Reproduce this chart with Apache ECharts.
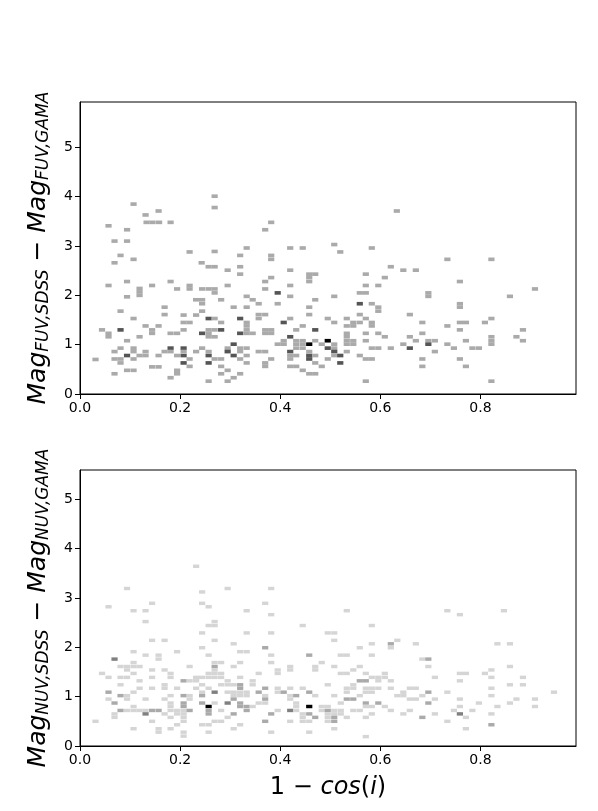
<!DOCTYPE html>
<html>
<head>
<meta charset="utf-8">
<script src="https://cdn.jsdelivr.net/npm/echarts@6/dist/echarts.min.js"></script>
<style>
  html, body { margin: 0; padding: 0; background: #fff; }
  #chart { width: 598px; height: 811px; }
</style>
</head>
<body>
<div id="chart"></div>
<script>
// 2D histogram cells: [1 - cos(i), magnitude difference, count]
var fuvCells = [
  [0.107,3.85,1],[0.131,3.63,1],[0.157,3.71,1],[0.133,3.48,1],[0.145,3.48,1],[0.158,3.48,1],[0.181,3.48,1],[0.057,3.41,1],[0.094,3.33,1],[0.069,3.10,1],[0.094,3.10,1],[0.081,2.81,1],[0.069,2.66,1],[0.107,2.73,1],[0.219,2.88,1],[0.243,2.66,1],
  [0.057,2.20,1],[0.094,2.28,1],[0.119,2.14,1],[0.119,2.07,1],[0.119,2.00,1],[0.144,2.20,1],[0.094,1.97,1],[0.181,2.28,1],[0.194,2.13,1],[0.219,2.20,1],[0.219,2.13,1],
  [0.081,1.68,1],[0.107,1.53,1],[0.169,1.76,1],[0.169,1.61,1],[0.207,1.60,1],[0.232,1.60,1],[0.232,1.91,1],
  [0.207,1.45,1],[0.219,1.45,1],[0.044,1.30,1],[0.057,1.23,1],[0.057,1.16,1],[0.081,1.30,2],[0.094,1.08,1],[0.119,1.16,1],[0.131,1.38,1],[0.144,1.30,1],[0.144,1.23,1],[0.157,1.38,1],[0.181,1.23,1],[0.194,1.23,1],[0.207,1.30,1],
  [0.081,0.93,1],[0.069,0.86,1],[0.094,0.78,2],[0.069,0.71,1],[0.081,0.71,1],[0.081,0.63,1],[0.107,0.71,1],[0.107,0.93,1],[0.107,0.86,1],[0.119,0.78,1],[0.131,0.78,1],[0.131,0.86,1],[0.157,0.78,1],[0.169,0.86,1],[0.181,0.93,2],[0.181,0.86,1],[0.194,0.78,1],[0.207,0.93,2],[0.207,0.78,2],[0.207,0.63,2],[0.207,0.86,1],[0.219,0.71,1],[0.219,0.56,1],[0.232,0.86,1],[0.031,0.70,1],[0.069,0.41,1],[0.094,0.48,1],[0.107,0.48,1],[0.144,0.55,1],[0.157,0.55,1],[0.194,0.48,1],[0.194,0.41,1],[0.181,0.33,1],
  [0.269,4.01,1],[0.269,3.78,1],[0.382,3.48,1],[0.370,3.33,1],[0.269,2.89,1],[0.333,2.96,1],[0.320,2.81,1],[0.382,2.81,1],[0.382,2.73,1],[0.420,2.96,1],[0.445,2.96,1],
  [0.257,2.58,1],[0.269,2.58,1],[0.295,2.51,1],[0.320,2.58,1],[0.320,2.43,1],[0.420,2.51,1],[0.458,2.43,1],[0.470,2.43,1],[0.458,2.36,1],[0.458,2.28,1],[0.382,2.36,1],[0.370,2.28,1],[0.295,2.20,1],
  [0.244,2.13,1],[0.257,2.13,1],[0.269,2.13,1],[0.269,2.05,1],[0.370,2.13,1],[0.420,2.20,1],[0.395,2.05,2],[0.420,1.98,1],[0.333,1.98,1],[0.345,1.91,1],[0.357,1.83,1],[0.244,1.91,1],[0.244,1.83,1],[0.282,1.91,1],[0.307,1.76,1],[0.333,1.76,1],[0.395,1.83,1],[0.470,1.91,1],[0.244,1.68,1],[0.458,1.76,1],[0.458,1.61,1],[0.420,1.53,1],[0.357,1.61,1],[0.370,1.61,1],[0.357,1.53,1],
  [0.257,1.53,2],[0.269,1.53,1],[0.282,1.45,1],[0.320,1.53,2],[0.333,1.45,1],[0.333,1.38,1],[0.333,1.30,1],[0.333,1.23,1],[0.407,1.45,2],[0.445,1.38,1],[0.432,1.30,1],[0.470,1.30,2],[0.244,1.23,2],[0.257,1.30,1],[0.257,1.23,1],[0.257,1.16,1],[0.269,1.30,1],[0.282,1.30,2],[0.269,1.16,1],[0.320,1.23,2],[0.345,1.23,1],[0.370,1.30,1],[0.382,1.30,1],[0.370,1.23,1],[0.382,1.23,1],[0.420,1.16,2],
  [0.395,1.01,1],[0.407,1.01,1],[0.407,1.08,1],[0.432,1.08,1],[0.445,1.08,1],[0.432,1.01,1],[0.445,1.01,1],[0.432,0.93,1],[0.445,0.93,1],[0.458,1.01,3],[0.470,1.08,1],[0.244,0.93,1],[0.307,1.01,2],[0.295,0.93,1],[0.295,0.86,2],[0.320,0.93,1],[0.320,0.86,1],[0.333,0.93,1],[0.307,0.78,2],[0.320,0.71,1],[0.333,0.78,1],[0.333,0.63,1],[0.357,0.86,1],[0.370,0.86,1],[0.370,0.63,1],[0.370,0.56,1],[0.382,0.71,1],[0.257,0.86,1],[0.257,0.78,2],[0.257,0.63,2],[0.269,0.71,1],[0.282,0.71,1],[0.282,0.56,1],[0.295,0.48,1],[0.282,0.41,1],[0.307,0.33,1],[0.320,0.41,1],[0.295,0.26,1],[0.257,0.26,1],
  [0.420,0.86,2],[0.420,0.78,1],[0.432,0.78,1],[0.420,0.71,1],[0.420,0.56,1],[0.432,0.56,1],[0.445,0.48,1],[0.458,0.41,1],[0.470,0.41,1],[0.458,0.86,1],[0.458,0.78,2],[0.458,0.71,2],[0.470,0.78,1],[0.470,0.63,1],
  [0.633,3.71,1],[0.508,3.03,1],[0.520,2.88,1],[0.583,2.96,1],[0.621,2.58,1],[0.646,2.51,1],[0.671,2.51,1],[0.571,2.43,1],[0.609,2.36,1],[0.571,2.20,1],[0.596,2.20,1],[0.559,2.05,1],[0.571,2.05,1],[0.508,1.98,1],[0.696,2.05,1],[0.696,1.98,1],[0.559,1.83,2],[0.583,1.83,1],[0.596,1.76,1],[0.596,1.68,1],[0.659,1.61,1],[0.559,1.61,1],[0.495,1.53,1],[0.508,1.45,1],[0.533,1.53,1],[0.571,1.53,1],[0.533,1.38,1],[0.546,1.38,1],[0.546,1.45,1],[0.559,1.45,1],[0.583,1.45,1],[0.583,1.38,1],[0.684,1.45,1],
  [0.533,1.23,1],[0.533,1.16,1],[0.533,1.08,1],[0.533,1.01,1],[0.546,1.08,1],[0.546,1.01,1],[0.571,1.23,1],[0.596,1.23,1],[0.609,1.16,1],[0.571,1.08,1],[0.659,1.16,1],[0.671,1.08,1],[0.684,1.23,1],[0.696,1.08,1],[0.709,1.08,1],[0.696,1.01,2],[0.709,0.86,1],[0.646,1.01,1],[0.659,0.93,2],[0.583,0.93,1],[0.596,0.93,1],[0.621,0.93,1],
  [0.495,1.08,3],[0.483,1.01,1],[0.495,0.93,2],[0.508,1.01,1],[0.508,0.93,1],[0.508,0.86,2],[0.508,0.78,1],[0.520,0.78,2],[0.520,0.63,2],[0.495,0.71,1],[0.483,0.56,1],[0.533,0.86,1],[0.559,0.78,1],[0.571,0.71,1],[0.583,0.71,1],[0.571,0.26,1],[0.684,0.71,1],[0.684,0.56,1],
  [0.734,2.73,1],[0.822,2.73,1],[0.759,2.28,1],[0.909,2.13,1],[0.859,1.98,1],[0.759,1.83,1],[0.759,1.76,1],[0.759,1.45,1],[0.771,1.45,1],[0.734,1.38,1],[0.759,1.30,1],[0.809,1.45,1],[0.822,1.53,1],[0.885,1.30,1],[0.822,1.16,1],[0.822,1.08,1],[0.822,1.01,1],[0.872,1.16,1],[0.885,1.08,1],[0.771,1.08,1],[0.734,1.01,1],[0.747,0.93,1],[0.784,0.93,1],[0.797,0.93,1],[0.759,0.71,1],[0.771,0.56,1],[0.822,0.26,1]
];

var nuvCells = [
  [0.232,3.64,1],[0.094,3.19,1],[0.057,2.82,1],[0.107,2.74,1],[0.131,2.74,1],[0.144,2.89,1],[0.131,2.52,1],[0.144,2.14,1],[0.169,2.14,1],[0.107,1.91,1],[0.131,1.84,1],[0.157,1.84,1],[0.157,1.76,1],[0.194,1.91,1],[0.069,1.76,3],[0.107,1.69,1],[0.081,1.61,1],[0.094,1.61,1],[0.107,1.61,1],[0.094,1.54,1],[0.119,1.61,1],[0.144,1.54,1],[0.169,1.54,1],[0.181,1.47,1],[0.219,1.61,1],[0.044,1.47,1],[0.057,1.39,1],[0.081,1.39,1],[0.094,1.39,1],[0.107,1.47,1],[0.144,1.39,1],[0.181,1.39,1],[0.119,1.32,1],[0.081,1.24,1],[0.169,1.24,1],[0.169,1.17,1],[0.207,1.32,2],[0.219,1.32,1],[0.232,1.32,1],[0.232,1.39,1],[0.144,1.17,1],[0.119,1.17,1],[0.194,1.17,1],
  [0.057,1.09,2],[0.081,1.02,2],[0.094,1.02,1],[0.094,0.95,1],[0.107,1.09,1],[0.057,0.95,1],[0.069,0.87,2],[0.131,0.95,1],[0.169,0.95,1],[0.181,1.02,1],[0.207,1.02,2],[0.219,1.02,1],[0.219,0.95,1],[0.232,1.17,1],[0.207,0.87,2],[0.181,0.87,1],[0.181,0.80,1],[0.081,0.72,2],[0.094,0.72,1],[0.107,0.72,1],[0.119,0.72,1],[0.107,0.80,1],[0.131,0.72,1],[0.144,0.72,2],[0.157,0.72,2],[0.131,0.65,3],[0.069,0.65,1],[0.069,0.58,1],[0.169,0.65,1],[0.181,0.72,1],[0.194,0.72,1],[0.194,0.65,1],[0.207,0.80,2],[0.207,0.72,1],[0.207,0.65,1],[0.207,0.58,1],[0.207,0.50,1],[0.219,0.72,2],[0.181,0.58,1],[0.194,0.43,1],[0.181,0.35,1],[0.144,0.50,1],[0.157,0.35,1],[0.157,0.28,1],[0.107,0.35,1],[0.031,0.50,1],[0.207,0.28,1],[0.207,0.20,1],
  [0.295,3.19,1],[0.382,3.19,1],[0.244,3.12,1],[0.244,2.89,1],[0.257,2.82,1],[0.370,2.89,1],[0.333,2.74,1],[0.382,2.66,1],[0.257,2.44,1],[0.269,2.44,1],[0.269,2.52,1],[0.244,2.29,1],[0.333,2.29,1],[0.382,2.29,1],[0.445,2.44,1],[0.269,2.14,1],[0.307,2.07,1],[0.244,1.99,1],[0.370,1.99,2],[0.320,1.91,1],[0.333,1.91,1],[0.257,1.84,1],[0.382,1.84,1],[0.458,1.84,2],[0.269,1.69,1],[0.282,1.69,1],[0.269,1.61,2],[0.307,1.61,1],[0.320,1.69,1],[0.382,1.69,1],[0.395,1.54,1],[0.395,1.47,1],[0.420,1.61,1],[0.420,1.54,1],[0.470,1.61,1],[0.470,1.54,1],
  [0.257,1.47,1],[0.269,1.54,1],[0.269,1.47,1],[0.282,1.47,1],[0.257,1.39,1],[0.269,1.39,1],[0.282,1.39,1],[0.244,1.39,1],[0.320,1.39,1],[0.357,1.47,1],[0.295,1.32,1],[0.295,1.24,1],[0.282,1.24,1],[0.307,1.24,1],[0.320,1.24,2],[0.320,1.17,2],[0.345,1.32,1],[0.345,1.24,1],[0.244,1.24,1],[0.244,1.09,1],[0.269,1.09,3],[0.257,1.17,1],[0.295,1.09,1],[0.307,1.09,1],[0.320,1.09,1],[0.333,1.09,1],[0.307,1.02,1],[0.320,1.02,1],[0.333,1.02,1],[0.357,1.09,2],[0.370,1.17,2],[0.370,1.02,1],[0.370,0.95,2],[0.370,0.87,1],[0.395,1.17,1],[0.395,1.09,1],[0.407,1.09,2],[0.420,1.17,1],[0.420,1.02,1],[0.420,0.95,1],[0.432,1.02,2],[0.445,1.17,1],[0.458,1.09,2],[0.470,1.02,1],[0.244,1.02,2],[0.244,0.87,2],
  [0.257,0.80,6],[0.257,0.72,2],[0.257,0.65,2],[0.269,0.87,1],[0.282,0.72,1],[0.295,0.87,3],[0.307,0.95,2],[0.320,0.87,2],[0.307,0.65,2],[0.320,0.80,2],[0.333,0.80,2],[0.333,0.72,2],[0.295,0.58,1],[0.282,0.50,1],[0.345,0.80,1],[0.357,0.87,1],[0.382,0.65,2],[0.395,0.72,1],[0.370,0.50,2],[0.420,0.72,3],[0.420,0.50,1],[0.432,0.87,1],[0.432,0.80,1],[0.432,0.72,1],[0.445,0.65,1],[0.445,0.58,1],[0.445,0.50,1],[0.458,0.80,6],[0.458,0.65,2],[0.470,0.58,2],[0.458,0.50,1],[0.244,0.43,1],[0.257,0.43,1],[0.269,0.50,1],[0.320,0.43,1],[0.307,0.35,1],[0.257,0.28,1],[0.382,0.28,1],[0.458,0.28,1],
  [0.533,2.74,1],[0.583,2.44,1],[0.495,2.29,1],[0.508,2.29,1],[0.508,2.14,1],[0.559,1.99,1],[0.583,2.07,1],[0.621,2.07,2],[0.621,1.99,1],[0.634,2.14,1],[0.671,2.07,1],[0.521,1.84,1],[0.533,1.84,1],[0.583,1.84,1],[0.684,1.76,1],[0.696,1.76,2],[0.483,1.69,1],[0.508,1.61,1],[0.559,1.61,1],[0.696,1.61,1],[0.521,1.47,1],[0.533,1.47,1],[0.546,1.54,1],[0.571,1.47,1],[0.583,1.39,1],[0.596,1.39,1],[0.609,1.47,1],[0.609,1.39,1],[0.596,1.32,1],[0.559,1.32,2],[0.571,1.32,2],[0.621,1.32,1],[0.709,1.39,1],
  [0.495,1.24,1],[0.546,1.24,1],[0.533,1.17,1],[0.546,1.17,1],[0.533,1.09,1],[0.571,1.17,1],[0.583,1.17,1],[0.596,1.17,1],[0.571,1.09,1],[0.583,1.09,1],[0.621,1.17,1],[0.646,1.09,1],[0.659,1.17,1],[0.671,1.17,1],[0.634,1.02,1],[0.646,1.02,1],[0.659,0.95,1],[0.671,0.95,1],[0.684,1.02,1],[0.696,1.09,2],[0.709,0.95,1],[0.508,1.02,1],[0.533,0.95,2],[0.546,0.95,2],[0.559,1.02,1],[0.521,0.87,1],[0.571,0.87,2],[0.596,0.87,2],[0.571,0.80,1],[0.583,0.80,1],[0.609,0.80,1],[0.621,0.72,1],[0.696,0.87,2],[0.659,0.72,1],[0.646,0.65,1],[0.709,0.65,1],[0.684,0.58,2],
  [0.483,0.80,1],[0.483,0.72,1],[0.495,0.80,1],[0.495,0.72,2],[0.495,0.65,1],[0.508,0.72,1],[0.521,0.72,1],[0.508,0.65,1],[0.521,0.65,1],[0.508,0.58,2],[0.508,0.50,2],[0.495,0.58,1],[0.495,0.50,1],[0.533,0.58,1],[0.546,0.72,1],[0.559,0.72,1],[0.571,0.58,1],[0.583,0.65,1],[0.508,0.35,1],[0.571,0.19,1],
  [0.734,2.74,1],[0.759,2.66,1],[0.847,2.74,1],[0.834,2.07,1],[0.859,2.07,1],[0.859,1.61,1],[0.822,1.54,1],[0.759,1.47,1],[0.771,1.47,1],[0.809,1.47,1],[0.822,1.39,1],[0.885,1.39,1],[0.759,1.32,1],[0.859,1.24,1],[0.885,1.24,1],[0.822,1.17,1],[0.947,1.09,1],[0.734,1.09,1],[0.822,1.02,1],[0.759,0.95,1],[0.797,0.87,1],[0.872,0.95,1],[0.859,0.87,1],[0.909,0.95,1],[0.909,0.80,1],[0.759,0.80,1],[0.834,0.80,1],[0.747,0.72,1],[0.784,0.72,1],[0.759,0.65,3],[0.771,0.58,1],[0.822,0.65,1],[0.734,0.50,1],[0.822,0.43,2],[0.771,0.35,1]
];

var xTicks = [0, 0.2, 0.4, 0.6, 0.8];
var yTicks = [0, 1, 2, 3, 4, 5];

// bin size of the histogram (x, y) and axis extents
var binX = 0.0124;
var binYTop = 0.074, binYBottom = 0.070;
var xMax = 0.991, yMaxTop = 5.92, yMaxBottom = 5.59;

var myChart = echarts.init(document.getElementById('chart'));

function cellRenderer(dy) {
  return function (params, api) {
    var x = api.value(0), y = api.value(1);
    var p0 = api.coord([x - binX / 2, y + dy / 2]);
    var p1 = api.coord([x + binX / 2, y - dy / 2]);
    return {
      type: 'rect',
      shape: { x: p0[0], y: p0[1], width: p1[0] - p0[0], height: p1[1] - p0[1] },
      style: { fill: api.visual('color') }
    };
  };
}

function xAxisOf(idx, withName) {
  return {
    type: 'value', gridIndex: idx, min: 0, max: xMax,
    name: withName ? '{u|1 − }{it|cos}{u|(}{it|i}{u|)}' : '',
    nameLocation: 'middle', nameGap: 30,
    nameTextStyle: {
      rich: {
        u: { fontSize: 24, fontFamily: 'DejaVu Sans', color: '#000' },
        it: { fontSize: 24, fontFamily: 'DejaVu Sans', fontStyle: 'italic', color: '#000' }
      }
    },
    axisLine: { show: true, onZero: false, lineStyle: { color: '#000', width: 1 } },
    axisTick: { show: true, inside: false, length: 5, customValues: xTicks, lineStyle: { color: '#000' } },
    axisLabel: {
      customValues: xTicks, color: '#000', fontSize: 14, fontFamily: 'DejaVu Sans', margin: 7,
      formatter: function (v) { return v.toFixed(1); }
    },
    splitLine: { show: false }
  };
}

function yAxisOf(idx, yMax, band) {
  return {
    type: 'value', gridIndex: idx, min: 0, max: yMax,
    name: '{m|Mag}{s|' + band + ',SDSS}{m| − Mag}{s|' + band + ',GAMA}',
    nameLocation: 'middle', nameGap: 28, nameRotate: 90,
    nameTextStyle: {
      rich: {
        m: { fontSize: 25, fontFamily: 'DejaVu Sans', fontStyle: 'italic', color: '#000' },
        s: { fontSize: 17, fontFamily: 'DejaVu Sans', fontStyle: 'italic', color: '#000', verticalAlign: 'bottom', padding: [10, 0, 0, 0] }
      }
    },
    axisLine: { show: true, onZero: false, lineStyle: { color: '#000', width: 1 } },
    axisTick: { show: true, inside: false, length: 5, customValues: yTicks, lineStyle: { color: '#000' } },
    axisLabel: { customValues: yTicks, color: '#000', fontSize: 14, fontFamily: 'DejaVu Sans', margin: 7 },
    splitLine: { show: false }
  };
}

var option = {
  backgroundColor: '#fff',
  animation: false,
  grid: [
    { left: 80, right: 22, top: 102, height: 292, show: true, borderColor: '#000', borderWidth: 1, backgroundColor: '#fff' },
    { left: 80, right: 22, top: 470, height: 276, show: true, borderColor: '#000', borderWidth: 1, backgroundColor: '#fff' }
  ],
  xAxis: [xAxisOf(0, false), xAxisOf(1, true)],
  yAxis: [yAxisOf(0, yMaxTop, 'FUV'), yAxisOf(1, yMaxBottom, 'NUV')],
  visualMap: [
    { type: 'continuous', show: false, seriesIndex: 0, dimension: 2, min: 0, max: 3, inRange: { color: ['#ffffff', '#000000'] } },
    { type: 'continuous', show: false, seriesIndex: 1, dimension: 2, min: 0, max: 6, inRange: { color: ['#ffffff', '#000000'] } }
  ],
  series: [
    { type: 'custom', xAxisIndex: 0, yAxisIndex: 0, renderItem: cellRenderer(binYTop), encode: { x: 0, y: 1 }, data: fuvCells },
    { type: 'custom', xAxisIndex: 1, yAxisIndex: 1, renderItem: cellRenderer(binYBottom), encode: { x: 0, y: 1 }, data: nuvCells }
  ]
};
myChart.setOption(option);
</script>
</body>
</html>
